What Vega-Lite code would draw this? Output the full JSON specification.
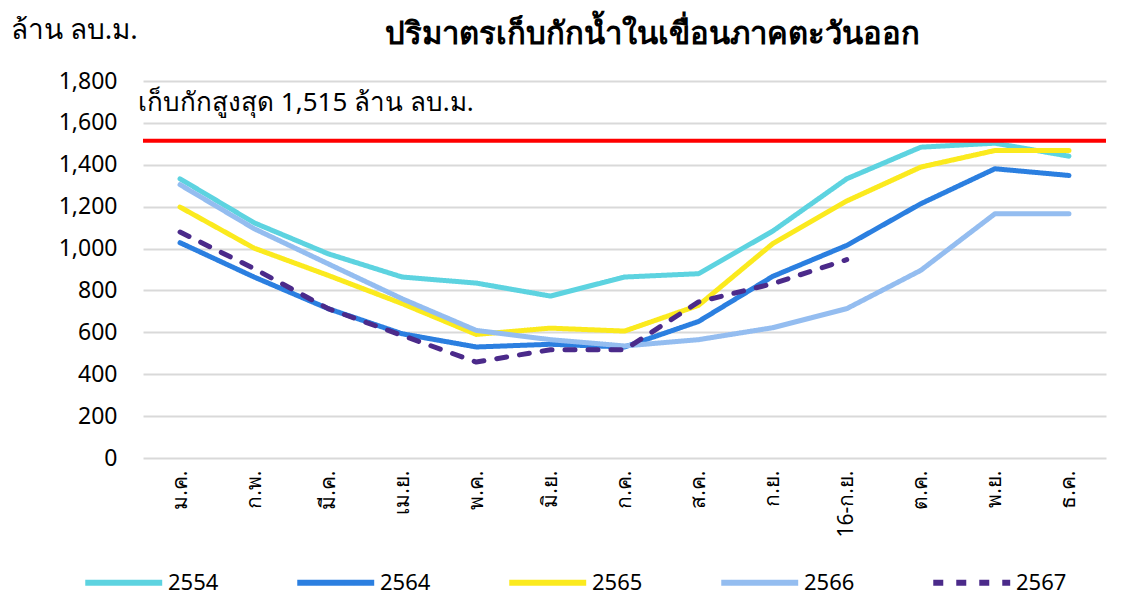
{
  "$schema": "https://vega.github.io/schema/vega-lite/v6.json",
  "width": 963,
  "height": 377,
  "padding": {"left": 10, "top": 16, "right": 0, "bottom": 0},
  "background": "white",
  "config": {
    "view": {"stroke": null},
    "font": "Noto Sans",
    "axis": {"labelFont": "Noto Sans", "titleFont": "Noto Sans"}
  },
  "title": {
    "text": "ปริมาตรเก็บกักน้ำในเขื่อนภาคตะวันออก",
    "fontSize": 31,
    "fontWeight": "bold",
    "color": "black",
    "anchor": "middle",
    "frame": "group",
    "dx": 28,
    "offset": -35
  },
  "datasets": {
    "series": [
      {"month": "ม.ค.", "year": "2554", "value": 1333},
      {"month": "ก.พ.", "year": "2554", "value": 1123},
      {"month": "มี.ค.", "year": "2554", "value": 975},
      {"month": "เม.ย.", "year": "2554", "value": 864},
      {"month": "พ.ค.", "year": "2554", "value": 835},
      {"month": "มิ.ย.", "year": "2554", "value": 773},
      {"month": "ก.ค.", "year": "2554", "value": 864},
      {"month": "ส.ค.", "year": "2554", "value": 880},
      {"month": "ก.ย.", "year": "2554", "value": 1083},
      {"month": "16-ก.ย.", "year": "2554", "value": 1333},
      {"month": "ต.ค.", "year": "2554", "value": 1484},
      {"month": "พ.ย.", "year": "2554", "value": 1503},
      {"month": "ธ.ค.", "year": "2554", "value": 1441},
      {"month": "ม.ค.", "year": "2564", "value": 1028},
      {"month": "ก.พ.", "year": "2564", "value": 864},
      {"month": "มี.ค.", "year": "2564", "value": 713},
      {"month": "เม.ย.", "year": "2564", "value": 593},
      {"month": "พ.ค.", "year": "2564", "value": 530},
      {"month": "มิ.ย.", "year": "2564", "value": 543},
      {"month": "ก.ค.", "year": "2564", "value": 530},
      {"month": "ส.ค.", "year": "2564", "value": 652},
      {"month": "ก.ย.", "year": "2564", "value": 867},
      {"month": "16-ก.ย.", "year": "2564", "value": 1015},
      {"month": "ต.ค.", "year": "2564", "value": 1214},
      {"month": "พ.ย.", "year": "2564", "value": 1381},
      {"month": "ธ.ค.", "year": "2564", "value": 1349},
      {"month": "ม.ค.", "year": "2565", "value": 1198},
      {"month": "ก.พ.", "year": "2565", "value": 1002},
      {"month": "มี.ค.", "year": "2565", "value": 872},
      {"month": "เม.ย.", "year": "2565", "value": 737},
      {"month": "พ.ค.", "year": "2565", "value": 590},
      {"month": "มิ.ย.", "year": "2565", "value": 620},
      {"month": "ก.ค.", "year": "2565", "value": 606},
      {"month": "ส.ค.", "year": "2565", "value": 729},
      {"month": "ก.ย.", "year": "2565", "value": 1023},
      {"month": "16-ก.ย.", "year": "2565", "value": 1227},
      {"month": "ต.ค.", "year": "2565", "value": 1389},
      {"month": "พ.ย.", "year": "2565", "value": 1468},
      {"month": "ธ.ค.", "year": "2565", "value": 1468},
      {"month": "ม.ค.", "year": "2566", "value": 1305},
      {"month": "ก.พ.", "year": "2566", "value": 1095},
      {"month": "มี.ค.", "year": "2566", "value": 927},
      {"month": "เม.ย.", "year": "2566", "value": 760},
      {"month": "พ.ค.", "year": "2566", "value": 609},
      {"month": "มิ.ย.", "year": "2566", "value": 565},
      {"month": "ก.ค.", "year": "2566", "value": 535},
      {"month": "ส.ค.", "year": "2566", "value": 565},
      {"month": "ก.ย.", "year": "2566", "value": 622},
      {"month": "16-ก.ย.", "year": "2566", "value": 713},
      {"month": "ต.ค.", "year": "2566", "value": 896},
      {"month": "พ.ย.", "year": "2566", "value": 1166},
      {"month": "ธ.ค.", "year": "2566", "value": 1166},
      {"month": "ม.ค.", "year": "2567", "value": 1079},
      {"month": "ก.พ.", "year": "2567", "value": 904},
      {"month": "มี.ค.", "year": "2567", "value": 713},
      {"month": "เม.ย.", "year": "2567", "value": 585},
      {"month": "พ.ค.", "year": "2567", "value": 458},
      {"month": "มิ.ย.", "year": "2567", "value": 517},
      {"month": "ก.ค.", "year": "2567", "value": 517},
      {"month": "ส.ค.", "year": "2567", "value": 745},
      {"month": "ก.ย.", "year": "2567", "value": 832},
      {"month": "16-ก.ย.", "year": "2567", "value": 947}
    ],
    "capacity": [
      {"label": "เก็บกักสูงสุด 1,515 ล้าน ลบ.ม.", "value": 1515, "month": "ม.ค."}
    ]
  },
  "layer": [
    {
      "data": {"name": "series"},
      "mark": {"type": "line", "strokeWidth": 5, "strokeCap": "round", "strokeJoin": "round"},
      "encoding": {
        "x": {
          "field": "month",
          "type": "ordinal",
          "scale": {"type": "point", "padding": 0.5, "domain": ["ม.ค.","ก.พ.","มี.ค.","เม.ย.","พ.ค.","มิ.ย.","ก.ค.","ส.ค.","ก.ย.","16-ก.ย.","ต.ค.","พ.ย.","ธ.ค."]},
          "axis": {
            "title": null,
            "labelAngle": 270,
            "labelAlign": "right",
            "labelBaseline": "middle",
            "labelFontSize": 21,
            "labelColor": "black",
            "labelPadding": 12,
            "domain": false,
            "ticks": false,
            "grid": false
          }
        },
        "y": {
          "field": "value",
          "type": "quantitative",
          "scale": {"domain": [0, 1800], "nice": false},
          "axis": {
            "title": "ล้าน ลบ.ม.",
            "titleAngle": 0,
            "titleAlign": "left",
            "titleBaseline": "middle",
            "titleX": -133,
            "titleY": -51,
            "titleFontSize": 28,
            "titleFontWeight": "normal",
            "titleColor": "black",
            "values": [0,200,400,600,800,1000,1200,1400,1600,1800],
            "format": ",.0f",
            "labelFontSize": 23,
            "labelColor": "black",
            "labelPadding": 26,
            "domain": false,
            "ticks": false,
            "grid": true,
            "gridColor": "#D9D9D9",
            "gridWidth": 2
          }
        },
        "color": {
          "field": "year",
          "type": "nominal",
          "scale": {"domain": ["2554","2564","2565","2566","2567"], "range": ["#5DD3E0","#2B7FE0","#FBEA1E","#94BDF0","#4B2A8A"]},
          "legend": {
            "title": null,
            "orient": "none",
            "direction": "horizontal",
            "legendX": -61,
            "legendY": 479,
            "symbolType": "M-1,0L3,0",
            "symbolSize": 1480,
            "symbolStrokeWidth": 6,
            "labelFontSize": 22,
            "labelColor": "black",
            "labelOffset": 41,
            "columnPadding": 66
          }
        },
        "strokeDash": {
          "field": "year",
          "type": "nominal",
          "scale": {"domain": ["2554","2564","2565","2566","2567"], "range": [[1,0],[1,0],[1,0],[1,0],[10,13]]},
          "legend": null
        }
      }
    },
    {
      "data": {"name": "capacity"},
      "mark": {"type": "rule", "color": "#FF0000", "strokeWidth": 4},
      "encoding": {"y": {"field": "value", "type": "quantitative"}}
    },
    {
      "data": {"name": "capacity"},
      "mark": {"type": "text", "align": "left", "baseline": "middle", "fontSize": 26, "color": "black", "dx": -42, "dy": -38},
      "encoding": {
        "x": {"field": "month", "type": "ordinal"},
        "y": {"field": "value", "type": "quantitative"},
        "text": {"field": "label"}
      }
    }
  ]
}
